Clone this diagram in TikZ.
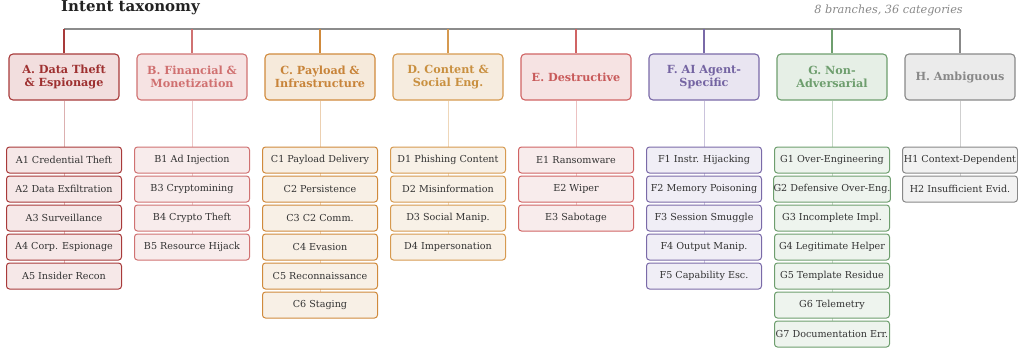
\documentclass[tikz,border=0pt]{standalone}
\usepackage{fontspec}
\setmainfont{DejaVu Serif}
\usetikzlibrary{backgrounds}
\definecolor{Abd}{HTML}{A83A3A}\definecolor{Atx}{HTML}{9E3030}\definecolor{Afill}{HTML}{F2DEDE}\definecolor{Alf}{HTML}{F6E8E8}
\definecolor{Bbd}{HTML}{D07272}\definecolor{Btx}{HTML}{D07070}\definecolor{Bfill}{HTML}{F6E3E3}\definecolor{Blf}{HTML}{F8ECEC}
\definecolor{Cbd}{HTML}{D08A3C}\definecolor{Ctx}{HTML}{C8843A}\definecolor{Cfill}{HTML}{F6EADB}\definecolor{Clf}{HTML}{F8F0E6}
\definecolor{Dbd}{HTML}{D69A50}\definecolor{Dtx}{HTML}{C99040}\definecolor{Dfill}{HTML}{F6ECDF}\definecolor{Dlf}{HTML}{F8F1E7}
\definecolor{Ebd}{HTML}{D06464}\definecolor{Etx}{HTML}{C85A5A}\definecolor{Efill}{HTML}{F6E3E3}\definecolor{Elf}{HTML}{F8ECEC}
\definecolor{Fbd}{HTML}{7A6AA8}\definecolor{Ftx}{HTML}{7464A2}\definecolor{Ffill}{HTML}{E9E5F1}\definecolor{Flf}{HTML}{F0EEF6}
\definecolor{Gbd}{HTML}{6E9E6E}\definecolor{Gtx}{HTML}{6E9E6E}\definecolor{Gfill}{HTML}{E6EFE6}\definecolor{Glf}{HTML}{EEF4EE}
\definecolor{Hbd}{HTML}{888888}\definecolor{Htx}{HTML}{888888}\definecolor{Hfill}{HTML}{EBEBEB}\definecolor{Hlf}{HTML}{F2F2F2}
\definecolor{leaftext}{HTML}{333333}
\definecolor{titletext}{HTML}{222222}
\definecolor{bargray}{HTML}{8C8C8C}
\tikzset{
  brbox/.style={draw=#1bd, fill=#1fill, text=#1tx, rounded corners=4pt, line width=1.1pt,
    minimum width=110pt, minimum height=46pt, align=center, inner sep=0pt,
    font=\bfseries\fontsize{11.2}{12.8}\selectfont},
  leafbox/.style={draw=#1bd, fill=#1lf, text=leaftext, rounded corners=3pt, line width=1pt,
    minimum width=115pt, minimum height=26pt, inner sep=0pt,
    font=\fontsize{9.6}{11}\selectfont},
  vline/.style={draw=#1bd, line width=1.1pt},
  spine/.style={draw=#1bd!40, line width=1pt},
  topbar/.style={draw=bargray, line width=1.5pt},
}
\newcommand\mkbranch[4]{%
  \pgfmathsetmacro\cx{64+128*#1}
  \coordinate (top#1) at (\cx,29);
  \node[brbox=#2] (b#1) at (\cx,77) {#3};
  \draw[vline=#2] (top#1) -- (b#1.north);
  \foreach \t [count=\j] in {#4} {
    \node[leafbox=#2] (l#1-\j) at (\cx,{160+29*(\j-1)}) {\t};
    \xdef\lastleaf{\j}
  }
  \begin{scope}[on background layer]
    \draw[spine=#2] (b#1.south) -- (l#1-\lastleaf.north);
  \end{scope}
}
\begin{document}
\begin{tikzpicture}[x=1pt,y=-1pt]
\useasboundingbox (0,0) rectangle (1018,351);
\node[font=\bfseries\fontsize{15}{17}\selectfont, text=titletext, inner sep=0pt] (title) at (130.5,8) {Intent taxonomy};
\node[font=\itshape\fontsize{11.3}{13}\selectfont, text=Hbd, anchor=east, inner sep=0pt] (sub) at (963,10) {8 branches, 36 categories};
\coordinate (bar0) at (64,29);
\coordinate (bar7) at (960,29);
\draw[topbar] (bar0) -- (bar7);
\mkbranch{0}{A}{A. Data Theft\\\& Espionage}{A1 Credential Theft,A2 Data Exfiltration,A3 Surveillance,A4 Corp. Espionage,A5 Insider Recon}
\mkbranch{1}{B}{B. Financial \&\\Monetization}{B1 Ad Injection,B3 Cryptomining,B4 Crypto Theft,B5 Resource Hijack}
\mkbranch{2}{C}{C. Payload \&\\Infrastructure}{C1 Payload Delivery,C2 Persistence,C3 C2 Comm.,C4 Evasion,C5 Reconnaissance,C6 Staging}
\mkbranch{3}{D}{D. Content \&\\Social Eng.}{D1 Phishing Content,D2 Misinformation,D3 Social Manip.,D4 Impersonation}
\mkbranch{4}{E}{E. Destructive}{E1 Ransomware,E2 Wiper,E3 Sabotage}
\mkbranch{5}{F}{F. AI Agent-\\Specific}{F1 Instr. Hijacking,F2 Memory Poisoning,F3 Session Smuggle,F4 Output Manip.,F5 Capability Esc.}
\mkbranch{6}{G}{G. Non-\\Adversarial}{G1 Over-Engineering,G2 Defensive Over-Eng.,G3 Incomplete Impl.,G4 Legitimate Helper,G5 Template Residue,G6 Telemetry,G7 Documentation Err.}
\mkbranch{7}{H}{H. Ambiguous}{H1 Context-Dependent,H2 Insufficient Evid.}
\end{tikzpicture}
\end{document}
